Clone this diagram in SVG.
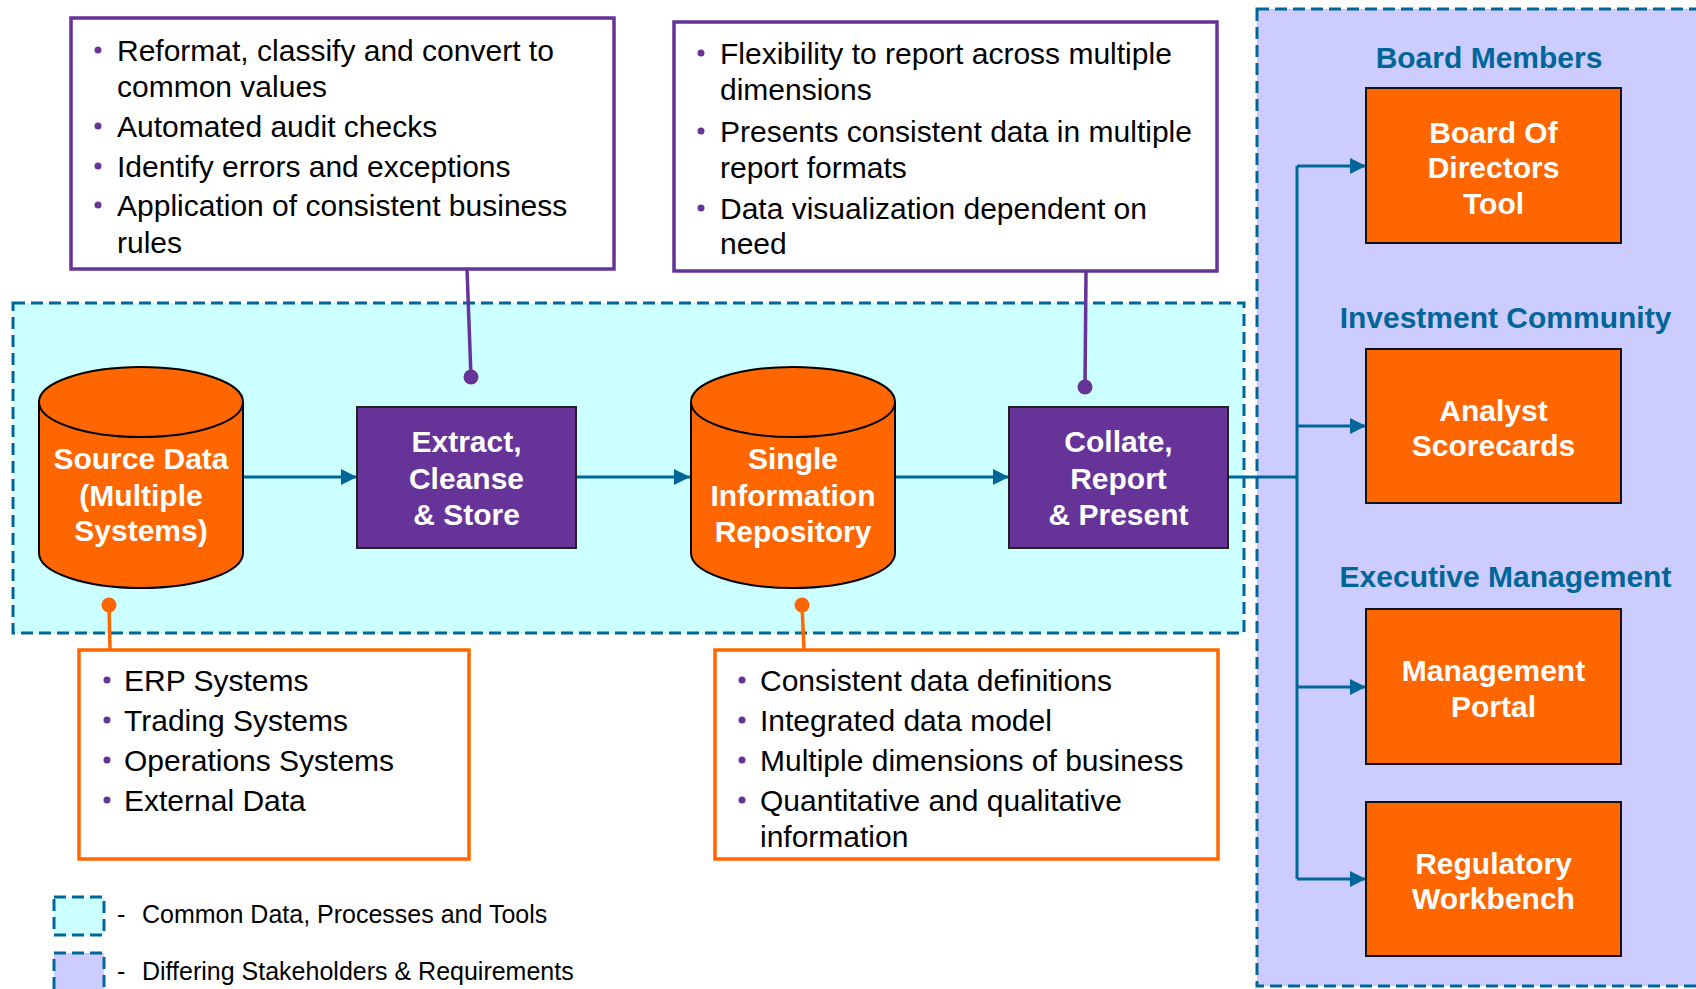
<svg xmlns="http://www.w3.org/2000/svg" width="1696" height="989" viewBox="0 0 1696 989">
<style>
.common{fill:#ccffff;stroke:#006699;stroke-width:3;stroke-dasharray:12 6}
.stake{fill:#ccccff;stroke:#006699;stroke-width:3;stroke-dasharray:12 6}
.cyl{fill:#ff6600;stroke:#000;stroke-width:2}
.proc{fill:#663399;stroke:#222;stroke-width:2}
.out{fill:#ff6600;stroke:#111;stroke-width:2}
.pbox{fill:#fff;stroke:#663399;stroke-width:3.5}
.obox{fill:#fff;stroke:#ff6600;stroke-width:3.5}
.wt{font-family:"Liberation Sans",Arial,sans-serif;font-weight:bold;font-size:30px;fill:#fff;text-anchor:middle}
.hd{font-family:"Liberation Sans",Arial,sans-serif;font-weight:bold;font-size:30px;fill:#006699;text-anchor:middle}
.bt{font-family:"Liberation Sans",Arial,sans-serif;font-size:30px;fill:#000}
.lg{font-family:"Liberation Sans",Arial,sans-serif;font-size:25px;fill:#000}
.bul{fill:#663399}
.flow{fill:none;stroke:#006699;stroke-width:3}
.pl{stroke:#663399;stroke-width:3.5;fill:none}
.ol{stroke:#ff6600;stroke-width:3.5;fill:none}
</style>
<defs>
<marker id="arr" markerUnits="userSpaceOnUse" markerWidth="16" markerHeight="16" viewBox="0 0 16 16" refX="16" refY="8" orient="auto">
<path d="M0,0 L16,8 L0,16 Z" fill="#006699"/>
</marker>
</defs>
<rect width="1696" height="989" fill="#fff"/>
<g id="region-common"><rect class="common" x="13" y="303" width="1231" height="330"/></g>
<g id="region-stakeholders"><rect class="stake" x="1257" y="9" width="460" height="977"/></g>
<g id="connectors">
<path class="flow" d="M243,477 H357" marker-end="url(#arr)"/>
<path class="flow" d="M576,477 H690" marker-end="url(#arr)"/>
<path class="flow" d="M895,477 H1009" marker-end="url(#arr)"/>
<path class="flow" d="M1228,477 H1297 M1297,166 V879"/>
<path class="flow" d="M1297,166 H1366" marker-end="url(#arr)"/>
<path class="flow" d="M1297,426 H1366" marker-end="url(#arr)"/>
<path class="flow" d="M1297,687 H1366" marker-end="url(#arr)"/>
<path class="flow" d="M1297,879 H1366" marker-end="url(#arr)"/>
<path class="pl" d="M467,269 L471,377"/><circle cx="471" cy="377" r="7.5" fill="#663399"/>
<path class="pl" d="M1086,272 L1085,387"/><circle cx="1085" cy="387" r="7.5" fill="#663399"/>
<path class="ol" d="M109,605 L110,649"/><circle cx="109" cy="605" r="7.5" fill="#ff6600"/>
<path class="ol" d="M802,605 L804,649"/><circle cx="802" cy="605" r="7.5" fill="#ff6600"/>
</g>
<g id="source-data">
<path class="cyl" d="M39,402 V553 A102,35 0 0 0 243,553 V402 Z"/>
<ellipse class="cyl" cx="141" cy="402" rx="102" ry="35"/>
<text class="wt" x="141" y="469">Source Data</text>
<text class="wt" x="141" y="506">(Multiple</text>
<text class="wt" x="141" y="541">Systems)</text>
</g>
<g id="extract">
<rect class="proc" x="357" y="407" width="219" height="141"/>
<text class="wt" x="466.5" y="452">Extract,</text>
<text class="wt" x="466.5" y="489">Cleanse</text>
<text class="wt" x="466.5" y="525">&amp; Store</text>
</g>
<g id="repository">
<path class="cyl" d="M691,402 V553 A102,35 0 0 0 895,553 V402 Z"/>
<ellipse class="cyl" cx="793" cy="402" rx="102" ry="35"/>
<text class="wt" x="793" y="469">Single</text>
<text class="wt" x="793" y="506">Information</text>
<text class="wt" x="793" y="542">Repository</text>
</g>
<g id="collate">
<rect class="proc" x="1009" y="407" width="219" height="141"/>
<text class="wt" x="1118.5" y="452">Collate,</text>
<text class="wt" x="1118.5" y="489">Report</text>
<text class="wt" x="1118.5" y="525">&amp; Present</text>
</g>
<g id="callout-extract">
<rect class="pbox" x="71" y="18" width="543" height="251"/>
<circle class="bul" cx="98" cy="50" r="3.5"/>
<circle class="bul" cx="98" cy="126" r="3.5"/>
<circle class="bul" cx="98" cy="166" r="3.5"/>
<circle class="bul" cx="98" cy="205" r="3.5"/>
<text class="bt" x="117" y="61">Reformat, classify and convert to</text>
<text class="bt" x="117" y="97">common values</text>
<text class="bt" x="117" y="137">Automated audit checks</text>
<text class="bt" x="117" y="177">Identify errors and exceptions</text>
<text class="bt" x="117" y="216">Application of consistent business</text>
<text class="bt" x="117" y="253">rules</text>
</g>
<g id="callout-collate">
<rect class="pbox" x="674" y="22" width="543" height="249"/>
<circle class="bul" cx="701" cy="53" r="3.5"/>
<circle class="bul" cx="701" cy="131" r="3.5"/>
<circle class="bul" cx="701" cy="208" r="3.5"/>
<text class="bt" x="720" y="64">Flexibility to report across multiple</text>
<text class="bt" x="720" y="100">dimensions</text>
<text class="bt" x="720" y="142">Presents consistent data in multiple</text>
<text class="bt" x="720" y="178">report formats</text>
<text class="bt" x="720" y="219">Data visualization dependent on</text>
<text class="bt" x="720" y="254">need</text>
</g>
<g id="callout-source">
<rect class="obox" x="79" y="650" width="390" height="209"/>
<circle class="bul" cx="107" cy="680" r="3.5"/>
<circle class="bul" cx="107" cy="720" r="3.5"/>
<circle class="bul" cx="107" cy="760" r="3.5"/>
<circle class="bul" cx="107" cy="800" r="3.5"/>
<text class="bt" x="124" y="691">ERP Systems</text>
<text class="bt" x="124" y="731">Trading Systems</text>
<text class="bt" x="124" y="771">Operations Systems</text>
<text class="bt" x="124" y="811">External Data</text>
</g>
<g id="callout-repository">
<rect class="obox" x="715" y="650" width="503" height="209"/>
<circle class="bul" cx="742" cy="680" r="3.5"/>
<circle class="bul" cx="742" cy="720" r="3.5"/>
<circle class="bul" cx="742" cy="760" r="3.5"/>
<circle class="bul" cx="742" cy="800" r="3.5"/>
<text class="bt" x="760" y="691">Consistent data definitions</text>
<text class="bt" x="760" y="731">Integrated data model</text>
<text class="bt" x="760" y="771">Multiple dimensions of business</text>
<text class="bt" x="760" y="811">Quantitative and qualitative</text>
<text class="bt" x="760" y="847">information</text>
</g>
<g id="board">
<text class="hd" x="1489" y="68">Board Members</text>
<rect class="out" x="1366" y="88" width="255" height="155"/>
<text class="wt" x="1493.5" y="143">Board Of</text>
<text class="wt" x="1493.5" y="178">Directors</text>
<text class="wt" x="1493.5" y="214">Tool</text>
</g>
<g id="analyst">
<text class="hd" x="1505.5" y="328">Investment Community</text>
<rect class="out" x="1366" y="349" width="255" height="154"/>
<text class="wt" x="1493.5" y="421">Analyst</text>
<text class="wt" x="1493.5" y="456">Scorecards</text>
</g>
<g id="management">
<text class="hd" x="1505.5" y="587">Executive Management</text>
<rect class="out" x="1366" y="609" width="255" height="155"/>
<text class="wt" x="1493.5" y="681">Management</text>
<text class="wt" x="1493.5" y="717">Portal</text>
</g>
<g id="regulatory">
<rect class="out" x="1366" y="802" width="255" height="154"/>
<text class="wt" x="1493.5" y="874">Regulatory</text>
<text class="wt" x="1493.5" y="909">Workbench</text>
</g>
<g id="legend">
<rect class="common" x="54" y="897" width="50" height="38"/>
<rect class="stake" x="54" y="953" width="50" height="40"/>
<text class="lg" x="117" y="923">-</text>
<text class="lg" x="142" y="923">Common Data, Processes and Tools</text>
<text class="lg" x="117" y="980">-</text>
<text class="lg" x="142" y="980">Differing Stakeholders &amp; Requirements</text>
</g>
</svg>
